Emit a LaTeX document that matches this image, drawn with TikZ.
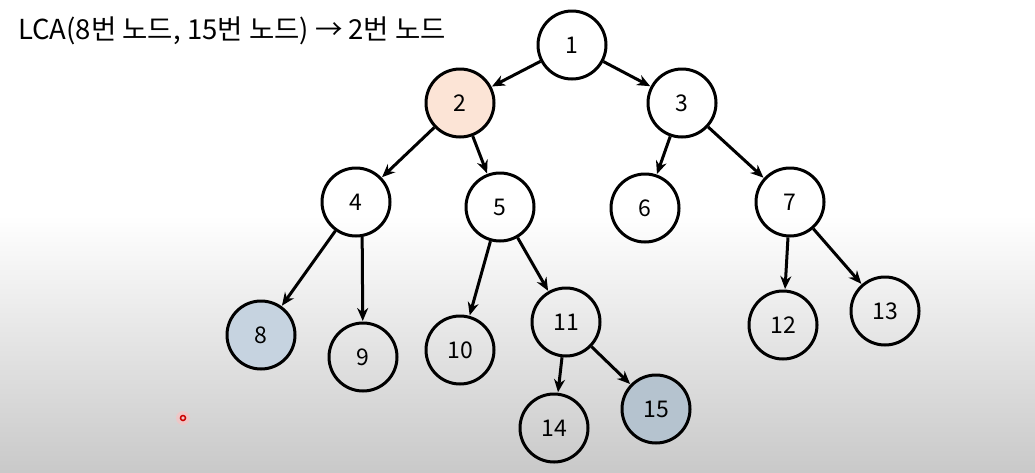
\documentclass[tikz,border=0pt]{standalone}
\usepackage{fontspec}
\setmainfont{Noto Sans CJK KR}
\usetikzlibrary{arrows.meta}
\definecolor{hl}{HTML}{FCE4D6}
\definecolor{qa}{HTML}{C6D3E0}
\definecolor{qb}{HTML}{B5C3CF}
\definecolor{bgb}{HTML}{C9C9C9}
\begin{document}
\begin{tikzpicture}[x=1pt,y=-1pt,
  tn/.style={circle,draw=black,line width=3pt,minimum size=68pt,inner sep=0pt,font=\fontsize{23}{23}\selectfont},
  ed/.style={line width=3pt,-{Stealth[length=13pt,width=11pt]},shorten >=0.5pt}]
\useasboundingbox (0,0) rectangle (1035,472);
\fill[white] (0,0) rectangle (1035,215);
\shade[top color=white,bottom color=bgb] (0,215) rectangle (1035,472);
\node[anchor=west,font=\fontsize{27.5}{27.5}\selectfont,inner sep=0pt] (title) at (18,31) {LCA(8번 노드, 15번 노드) → 2번 노드};
\node[tn] (n1) at (572,45) {1};
\node[tn,fill=hl] (n2) at (460,103) {2};
\node[tn] (n3) at (682,103) {3};
\node[tn] (n4) at (356,202) {4};
\node[tn] (n5) at (500,207) {5};
\node[tn] (n6) at (645,208) {6};
\node[tn] (n7) at (790,202) {7};
\node[tn,fill=qa] (n8) at (261,335) {8};
\node[tn] (n9) at (363,357) {9};
\node[tn] (n10) at (460,350) {10};
\node[tn] (n11) at (566,322) {11};
\node[tn] (n12) at (783,325) {12};
\node[tn] (n13) at (885,311) {13};
\node[tn] (n14) at (554,428) {14};
\node[tn,fill=qb] (n15) at (656,409) {15};
\draw[ed] (n1) -- (n2);
\draw[ed] (n1) -- (n3);
\draw[ed] (n2) -- (n4);
\draw[ed] (n2) -- (n5);
\draw[ed] (n3) -- (n6);
\draw[ed] (n3) -- (n7);
\draw[ed] (n4) -- (n8);
\draw[ed] (n4.-80) -- (n9);
\draw[ed] (n5) -- (n10);
\draw[ed] (n5) -- (n11);
\draw[ed] (n7) -- (n12);
\draw[ed] (n7) -- (n13);
\draw[ed] (n11) -- (n14);
\draw[ed] (n11) -- (n15);
\fill[red!25,opacity=0.6] (183,418) circle (7);
\draw[red!80!black,line width=1.5pt] (183,418) coordinate (dot) circle (2.5);
\end{tikzpicture}
\end{document}
